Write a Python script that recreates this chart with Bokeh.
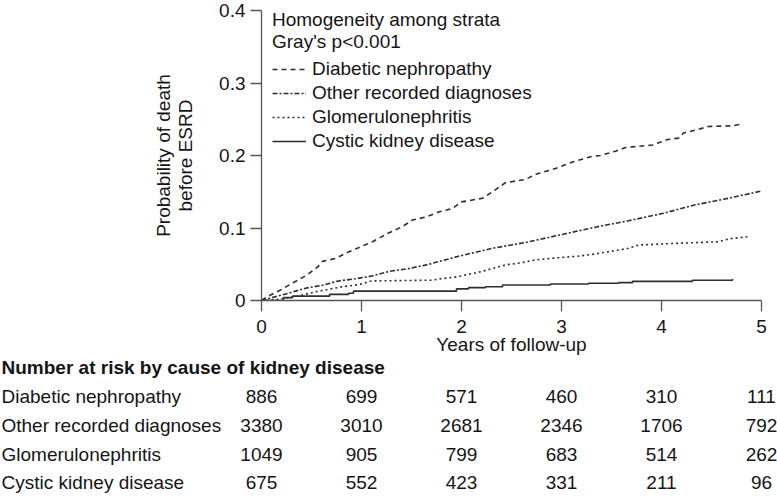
from bokeh.plotting import figure
from bokeh.models import Range1d, FixedTicker, Legend, LegendItem
from bokeh.layouts import column
from bokeh.embed import file_html
from bokeh.resources import INLINE
from bokeh.core.properties import value

FONT = "Liberation Sans"
INK = "#151515"
LINE = "#2e2e2e"
AXIS = "#555555"
FS = "19px"

# ---------------- data ----------------
years = [0, 1, 2, 3, 4, 5]
y_ticks = [0, 0.1, 0.2, 0.3, 0.4]
groups = ["Diabetic nephropathy", "Other recorded diagnoses",
          "Glomerulonephritis", "Cystic kidney disease"]

dn_t = [0, 0.04, 0.19, 0.31, 0.44, 0.56, 0.61, 0.74, 0.87, 1.04, 1.11, 1.27, 1.41,
        1.51, 1.64, 1.77, 1.91, 2.0, 2.21, 2.31, 2.44, 2.64, 2.74, 2.94, 3.11, 3.31,
        3.39, 3.54, 3.64, 3.91, 4.06, 4.17, 4.22, 4.34, 4.47, 4.71, 4.81]
dn_p = [0, 0.004, 0.0145, 0.024, 0.034, 0.046, 0.054, 0.058, 0.067, 0.077, 0.081,
        0.093, 0.102, 0.111, 0.115, 0.122, 0.127, 0.136, 0.141, 0.150, 0.1625, 0.167,
        0.174, 0.182, 0.191, 0.199, 0.200, 0.206, 0.211, 0.2145, 0.222, 0.224, 0.231,
        0.235, 0.240, 0.241, 0.2435]

other_t = [0, 0.08, 0.27, 0.44, 0.61, 0.77, 0.94, 1.11, 1.27, 1.47, 1.66, 1.97, 2.31,
           2.64, 2.97, 3.35, 3.67, 4.01, 4.34, 4.67, 5.0]
other_p = [0, 0.003, 0.010, 0.017, 0.021, 0.027, 0.030, 0.034, 0.040, 0.044, 0.0495,
           0.061, 0.072, 0.080, 0.090, 0.1015, 0.110, 0.120, 0.132, 0.141, 0.151]

gn_t = [0, 0.13, 0.33, 0.54, 0.81, 0.98, 1.1, 1.69, 1.97, 2.2, 2.44, 2.6, 2.74, 2.97,
        3.15, 3.33, 3.67, 3.77, 4.17, 4.57, 4.67, 4.87]
gn_p = [0, 0.001, 0.005, 0.012, 0.019, 0.022, 0.027, 0.028, 0.033, 0.040, 0.049,
        0.052, 0.056, 0.059, 0.061, 0.064, 0.072, 0.0765, 0.079, 0.081, 0.085, 0.088]

ck_t = [0, 0.22, 0.31, 0.68, 0.87, 0.92, 1.95, 2.07, 2.24, 2.41, 2.89, 3.27, 3.57,
        3.71, 4.31, 4.71]
ck_p = [0, 0.004, 0.006, 0.0085, 0.010, 0.013, 0.016, 0.0177, 0.019, 0.0214, 0.0228,
        0.0237, 0.0246, 0.0264, 0.028, 0.0295]

risk_dn = [886, 699, 571, 460, 310, 111]
risk_other = [3380, 3010, 2681, 2346, 1706, 792]
risk_gn = [1049, 905, 799, 683, 514, 262]
risk_ck = [675, 552, 423, 331, 211, 96]
risk_rows = [risk_dn, risk_other, risk_gn, risk_ck]

table_title = "Number at risk by cause of kidney disease"
legend_title = "Homogeneity among strata\nGray's p<0.001"

# ---------------- main chart ----------------
p = figure(frame_width=500, frame_height=290,
           x_range=Range1d(0, 5), y_range=Range1d(0, 0.4),
           min_border_left=261, min_border_right=16,
           min_border_top=10, min_border_bottom=55,
           output_backend="svg", toolbar_location=None)
p.frame_align = False
p.grid.visible = False
p.outline_line_color = None
p.background_fill_color = "white"

r_dn = p.line(dn_t, dn_p, line_color=LINE, line_width=1.6, line_dash="5 4")
r_other = p.line(other_t, other_p, line_color=LINE, line_width=1.6, line_dash="5 2 2 2")
r_gn = p.line(gn_t, gn_p, line_color=LINE, line_width=1.6, line_dash="2 3")
r_ck = p.step(ck_t, ck_p, mode="after", line_color=LINE, line_width=1.6)

for ax in (p.xaxis[0], p.yaxis[0]):
    ax.axis_line_color = AXIS
    ax.axis_line_width = 1.3
    ax.major_tick_line_color = AXIS
    ax.major_tick_line_width = 1.3
    ax.major_tick_out = 11
    ax.major_tick_in = 0
    ax.minor_tick_line_color = None
    ax.major_label_text_font = FONT
    ax.major_label_text_font_size = FS
    ax.major_label_text_color = INK
    ax.axis_label_text_font = FONT
    ax.axis_label_text_font_size = FS
    ax.axis_label_text_font_style = "normal"
    ax.axis_label_text_color = INK

p.xaxis.ticker = FixedTicker(ticks=years)
p.xaxis.axis_label = "Years of follow-up"
p.xaxis.major_label_standoff = 8
p.xaxis.axis_label_standoff = -2

p.yaxis.ticker = FixedTicker(ticks=y_ticks)
p.yaxis.major_label_overrides = {0: "0"}
p.yaxis.axis_label = "Probability of death\nbefore ESRD"
p.yaxis.axis_label_text_line_height = 1.05
p.yaxis.major_label_standoff = 5
p.yaxis.axis_label_standoff = 20

legend = Legend(
    items=[LegendItem(label=g, renderers=[r]) for g, r in
           zip(groups, [r_dn, r_other, r_gn, r_ck])],
    title=legend_title, location=(11, 148),
    title_text_font=FONT, title_text_font_size=FS, title_text_font_style="normal",
    title_text_color=INK, title_text_line_height=1.3, title_standoff=5,
    label_text_font=FONT, label_text_font_size=FS, label_text_color=INK,
    glyph_width=34, glyph_height=20, label_height=20, label_standoff=6,
    spacing=2, padding=0, margin=0,
    border_line_color=None, background_fill_alpha=0)
p.add_layout(legend)

# ---------------- number-at-risk table ----------------
row_top = -0.365
row_px = 28.75
t_height = 142
t = figure(width=777, height=t_height,
           x_range=Range1d(-2.61, 5.16),
           y_range=Range1d(row_top + t_height / row_px, row_top),
           min_border=0, min_border_left=0, min_border_right=0,
           min_border_top=0, min_border_bottom=0,
           x_axis_location=None, y_axis_location=None,
           output_backend="svg", toolbar_location=None)
t.frame_align = False
t.grid.visible = False
t.outline_line_color = None

t.text(x=[-2.60], y=[0], text=[table_title], text_font=value(FONT),
       text_font_size=FS, text_font_style="bold", text_color=INK,
       text_align="left", text_baseline="middle")

rows = list(range(1, len(groups) + 1))
t.text(x=[-2.60] * len(groups), y=rows, text=groups, text_font=value(FONT),
       text_font_size=FS, text_color=INK, text_align="left", text_baseline="middle")

nx, ny, nt = [], [], []
for i, row in enumerate(risk_rows):
    for yr, n in zip(years, row):
        nx.append(yr)
        ny.append(i + 1)
        nt.append(str(n))
t.text(x=nx, y=ny, text=nt, text_font=value(FONT), text_font_size=FS,
       text_color=INK, text_align="center", text_baseline="middle")

layout = column(p, t, spacing=0)
open("out.html", "w").write(file_html(layout, INLINE))
